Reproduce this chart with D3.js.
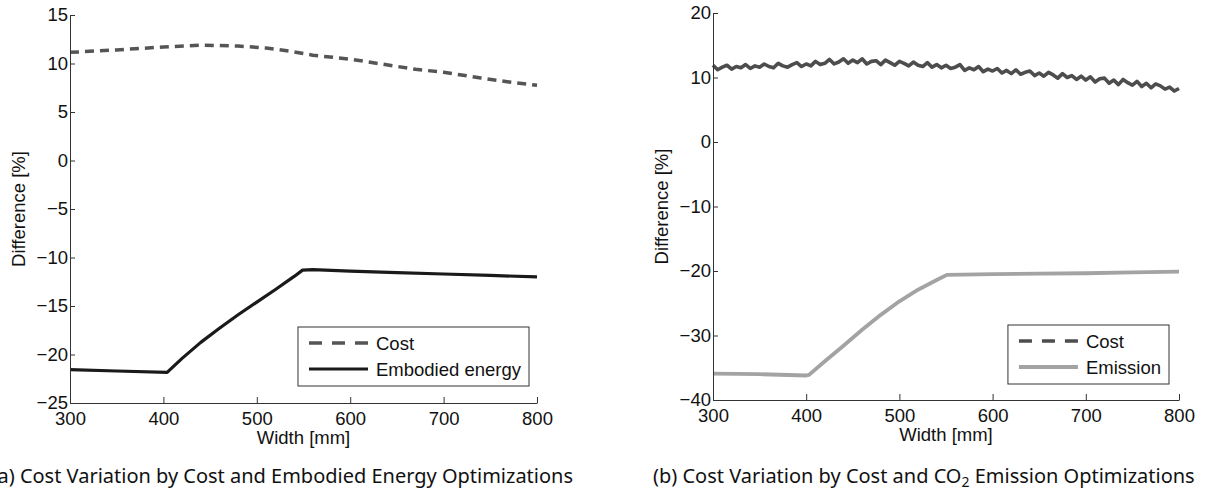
<!DOCTYPE html>
<html>
<head>
<meta charset="utf-8">
<script src="https://cdn.jsdelivr.net/npm/d3@7"></script>
<style>
  body { margin: 0; background: #fff; }
  svg { display: block; }
</style>
</head>
<body>
<svg id="chart" width="1206" height="494"></svg>
<script>
// ---- data ----
const xTicks = [300, 400, 500, 600, 700, 800];
const yTicksA = [15, 10, 5, 0, -5, -10, -15, -20, -25];
const yTicksB = [20, 10, 0, -10, -20, -30, -40];

// (a) cost optimisation vs embodied energy optimisation
const costA_w = [300, 350, 400, 440, 480, 510, 540, 560, 600, 630, 670, 700, 740, 770, 800];
const costA_v = [11.15, 11.4, 11.7, 11.9, 11.8, 11.6, 11.2, 10.85, 10.45, 10.0, 9.4, 9.1, 8.5, 8.1, 7.75];

const energy_w = [300, 350, 404, 420, 440, 460, 480, 500, 520, 540, 549, 560, 600, 650, 700, 750, 800];
const energy_v = [-21.55, -21.7, -21.85, -20.4, -18.75, -17.3, -15.9, -14.6, -13.3, -11.95, -11.3, -11.25, -11.4, -11.55, -11.7, -11.85, -12.0];

// (b) cost optimisation vs CO2 emission optimisation (cost curve is noisy, every 5 mm)
const costB_w = d3.range(300, 801, 5);
const costB_v = [
  11.9, 11.2, 11.6, 11.9, 11.3, 11.7, 11.5, 12.0, 11.4, 11.8,
  11.6, 12.1, 11.7, 11.5, 12.2, 11.8, 11.6, 12.0, 12.3, 11.7,
  12.1, 11.8, 12.5, 12.0, 12.2, 12.8, 12.1, 12.4, 12.9, 12.2,
  12.7, 12.3, 12.9, 12.1, 12.5, 12.6, 12.0, 12.7, 12.3, 11.9,
  12.5, 12.2, 11.8, 12.4, 11.9, 11.7, 12.3, 11.6, 12.0, 11.5,
  11.9, 11.4, 11.6, 12.0, 11.1, 11.5, 11.2, 11.7, 10.9, 11.3,
  11.0, 11.4, 10.7, 11.1, 10.6, 11.2, 10.5, 10.8, 11.0, 10.3,
  10.7, 10.2, 10.8, 10.4, 9.9, 10.6, 10.0, 10.3, 9.7, 10.2,
  9.6, 10.1, 9.3, 9.8, 9.9, 9.1, 9.6, 8.9, 9.7, 9.2,
  8.8, 9.4, 8.6, 9.1, 8.4, 9.0, 8.7, 8.2, 8.5, 7.9,
  8.3
];

const emission_w = [300, 350, 400, 403, 420, 440, 460, 480, 500, 520, 540, 551, 600, 650, 700, 750, 800];
const emission_v = [-35.9, -36.0, -36.2, -36.1, -34.0, -31.6, -29.1, -26.8, -24.7, -22.9, -21.4, -20.6, -20.5, -20.4, -20.35, -20.2, -20.1];

const tickFont = "'Liberation Sans', Arial, Helvetica, sans-serif";
const captionFont = "'Noto Sans', 'Open Sans', sans-serif";
const fs = 18.5;

const svg = d3.select("#chart");
svg.append("rect").attr("width", 1206).attr("height", 494).attr("fill", "#fff");

function drawPanel(cfg) {
    const x = d3.scaleLinear().domain([300, 800]).range([cfg.left, cfg.right]);
    const y = d3.scaleLinear().domain(cfg.yDomain).range([cfg.bottom, cfg.top]);

    const g = svg.append("g");

    // series
    const line = d3.line().x(d => x(d[0])).y(d => y(d[1]));
    cfg.series.forEach(s => {
        g.append("path")
            .datum(d3.zip(s.w, s.v))
            .attr("d", line)
            .attr("fill", "none")
            .attr("stroke", s.color)
            .attr("stroke-width", s.width)
            .attr("stroke-linejoin", "round")
            .attr("stroke-dasharray", s.plotDash || null);
    });

    // axes (matlab style: ticks pointing in, no box)
    const xAxis = g.append("g")
        .attr("transform", `translate(0,${cfg.bottom})`)
        .call(d3.axisBottom(x).tickValues(xTicks).tickSizeInner(-6).tickSizeOuter(0).tickPadding(9));
    const yAxis = g.append("g")
        .attr("transform", `translate(${cfg.left},0)`)
        .call(d3.axisLeft(y).tickValues(cfg.yTicks).tickSizeInner(-5).tickSizeOuter(0).tickPadding(2));

    [xAxis, yAxis].forEach(a => {
        a.select(".domain").attr("stroke", "#333").attr("stroke-width", 1);
        a.selectAll(".tick line").attr("stroke", "#333");
        a.selectAll("text")
            .attr("fill", "#111")
            .style("font-family", tickFont)
            .style("font-size", fs + "px");
    });

    g.append("text")
        .attr("x", (cfg.left + cfg.right) / 2)
        .attr("y", cfg.bottom + 41)
        .attr("text-anchor", "middle")
        .style("font-family", tickFont)
        .style("font-size", fs + "px")
        .attr("fill", "#111")
        .text("Width [mm]");

    g.append("text")
        .attr("transform", `translate(${cfg.yLabelX},${(cfg.top + cfg.bottom) / 2}) rotate(-90)`)
        .attr("text-anchor", "middle")
        .style("font-family", tickFont)
        .style("font-size", fs + "px")
        .attr("fill", "#111")
        .text("Difference [%]");

    // legend
    const lg = g.append("g");
    const box = lg.append("rect")
        .attr("fill", "#fff")
        .attr("stroke", "#333")
        .attr("stroke-width", 1);
    let maxLen = 0;
    cfg.series.forEach((s, i) => {
        const ly = 16 + i * 26;
        lg.append("line")
            .attr("x1", 11).attr("x2", 70)
            .attr("y1", ly).attr("y2", ly)
            .attr("stroke", s.color)
            .attr("stroke-width", s.width)
            .attr("stroke-dasharray", s.legendDash || null);
        const t = lg.append("text")
            .attr("x", 78).attr("y", ly + 7)
            .style("font-family", tickFont)
            .style("font-size", fs + "px")
            .attr("fill", "#111")
            .text(s.name);
        maxLen = Math.max(maxLen, t.node().getComputedTextLength());
    });
    const bw = maxLen + 86, bh = 59;
    box.attr("width", bw).attr("height", bh);
    lg.attr("transform", `translate(${cfg.right - cfg.legendRight - bw},${cfg.bottom - cfg.legendBottom - bh})`);

    return g;
}

drawPanel({
    left: 70, right: 537, top: 15, bottom: 403,
    yDomain: [-25, 15], yTicks: yTicksA, yLabelX: 25,
    legendRight: 8, legendBottom: 17,
    series: [
        { name: "Cost", w: costA_w, v: costA_v, color: "#555", width: 3.5, plotDash: "9,6", legendDash: "13,10" },
        { name: "Embodied energy", w: energy_w, v: energy_v, color: "#1a1a1a", width: 3.2 }
    ]
});

drawPanel({
    left: 713, right: 1179, top: 13, bottom: 400,
    yDomain: [-40, 20], yTicks: yTicksB, yLabelX: 668,
    legendRight: 10, legendBottom: 16,
    series: [
        { name: "Cost", w: costB_w, v: costB_v, color: "#4d4d4d", width: 3.6, legendDash: "13,10" },
        { name: "Emission", w: emission_w, v: emission_v, color: "#a3a3a3", width: 3.8 }
    ]
});

// captions
const capA = svg.append("text")
    .attr("x", 573).attr("y", 483)
    .attr("text-anchor", "end")
    .style("font-family", captionFont)
    .attr("fill", "#111")
    .text("(a) Cost Variation by Cost and Embodied Energy Optimizations");

const capB = svg.append("text")
    .attr("x", 653).attr("y", 483)
    .attr("text-anchor", "start")
    .style("font-family", captionFont)
    .attr("fill", "#111");
capB.append("tspan").text("(b) Cost Variation by Cost and CO");
const sub = capB.append("tspan").attr("dy", 4).text("2");
capB.append("tspan").attr("dy", -4).text(" Emission Optimizations");

// fit caption size to the width seen in the figure
let size = 20;
capA.style("font-size", size + "px");
capB.style("font-size", size + "px");
sub.style("font-size", (size * 0.7) + "px");
const w = capB.node().getComputedTextLength();
size = size * 542 / w;
capA.style("font-size", size + "px");
capB.style("font-size", size + "px");
sub.style("font-size", (size * 0.7) + "px");
</script>
</body>
</html>
